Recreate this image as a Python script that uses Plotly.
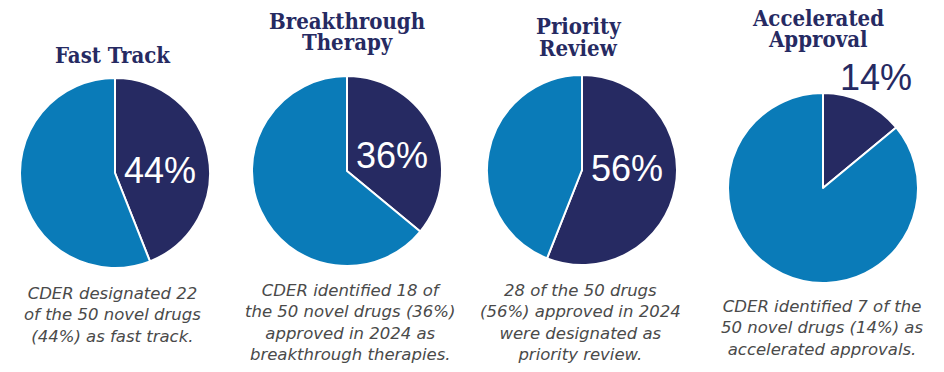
import plotly.graph_objects as go

W, H = 944, 372
OFF = 8  # page body margin offset

title_lines = [["Fast Track"], ["Breakthrough", "Therapy"], ["Priority", "Review"], ["Accelerated", "Approval"]]
designated = [22, 18, 28, 7]
total = 50
percents = [44, 36, 56, 14]
captions = [
    "CDER designated 22<br>of the 50 novel drugs<br>(44%) as fast track.",
    "CDER identified 18 of<br>the 50 novel drugs (36%)<br>approved in 2024 as<br>breakthrough therapies.",
    "28 of the 50 drugs<br>(56%) approved in 2024<br>were designated as<br>priority review.",
    "CDER identified 7 of the<br>50 novel drugs (14%) as<br>accelerated approvals.",
]

NAVY = "#262a62"
BLUE = "#0a7bb8"

# layout (pixel positions in the window)
centers = [(115, 173), (347, 171), (582, 170), (823, 188)]
R = 95
title_x = [113, 347, 578, 818]
title_y = [[55], [21, 42], [26.5, 47.5], [18.5, 39]]
label_pos = [(160, 170), (392, 155), (627, 168), (876, 77)]
label_col = ["white", "white", "white", NAVY]
label_size = [36, 36, 36, 36]
caption_pos = [(112, 315), (350, 322), (580, 322), (822, 328)]


def px(x):
    return (x - OFF) / W


def py(y):
    return 1 - (y - OFF) / H


fig = go.Figure()
for i, (cx, cy) in enumerate(centers):
    vals = [designated[i], total - designated[i]]
    fig.add_trace(go.Pie(
        values=vals,
        labels=["Designated", "Other"],
        sort=False,
        direction="clockwise",
        rotation=0,
        marker=dict(colors=[NAVY, BLUE], line=dict(color="white", width=2)),
        textinfo="none",
        hoverinfo="skip",
        showlegend=False,
        domain=dict(x=[px(cx - R), px(cx + R)], y=[py(cy + R), py(cy - R)]),
    ))

anns = []
for i in range(4):
    for line, ty in zip(title_lines[i], title_y[i]):
        anns.append(dict(x=px(title_x[i]), y=py(ty), xref="paper", yref="paper", text="<b>" + line + "</b>",
                         showarrow=False, xanchor="center", yanchor="middle",
                         font=dict(family="DejaVu Serif Condensed", size=22, color=NAVY)))
    lx, ly = label_pos[i]
    anns.append(dict(x=px(lx), y=py(ly), xref="paper", yref="paper", text=f"{percents[i]}%",
                     showarrow=False, xanchor="center", yanchor="middle",
                     font=dict(family="Liberation Sans", size=label_size[i], color=label_col[i])))
    cx_, cy_ = caption_pos[i]
    anns.append(dict(x=px(cx_), y=py(cy_), xref="paper", yref="paper", text="<i>" + captions[i] + "</i>",
                     showarrow=False, xanchor="center", yanchor="middle", align="center",
                     font=dict(family="DejaVu Sans", size=16.5, color="#4a4a4a")))

fig.update_layout(
    width=W, height=H,
    margin=dict(l=0, r=0, t=0, b=0),
    paper_bgcolor="white", plot_bgcolor="white",
    annotations=anns,
)

fig.write_html("out.html")
